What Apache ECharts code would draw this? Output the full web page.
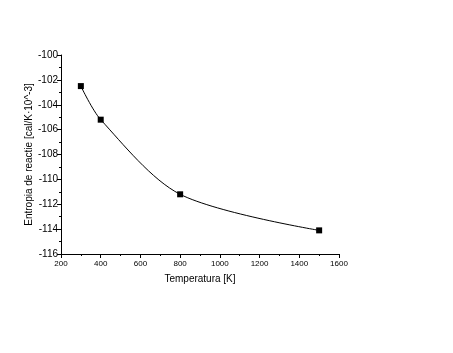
<!DOCTYPE html>
<html>
<head>
<meta charset="utf-8">
<script src="https://cdn.jsdelivr.net/npm/echarts@6/dist/echarts.min.js"></script>
<style>html,body{margin:0;padding:0;background:#fff}#c{width:453px;height:353px}</style>
</head>
<body>
<div id="c"></div>
<script>
const temperatures = [300, 400, 800, 1500];
const entropy = [-102.5, -105.2, -111.2, -114.1];
const xTicks = [200, 400, 600, 800, 1000, 1200, 1400, 1600];
const yTicks = [-116, -114, -112, -110, -108, -106, -104, -102, -100];

const chart = echarts.init(document.getElementById('c'), null, {renderer: 'canvas'});
const font = 'Liberation Sans, Arial, sans-serif';
chart.setOption({
  animation: false,
  backgroundColor: '#fff',
  grid: {left: 61, right: 114, top: 55, bottom: 99},
  xAxis: {
    type: 'value', min: xTicks[0], max: xTicks[xTicks.length - 1], interval: 200,
    name: 'Temperatura [K]', nameLocation: 'middle', nameGap: 20,
    nameTextStyle: {fontFamily: font, fontSize: 10, color: '#000'},
    axisLine: {show: true, lineStyle: {color: '#000', width: 1}},
    axisTick: {show: true, inside: false, length: 4, lineStyle: {color: '#000'}},
    minorTick: {show: true, splitNumber: 2, length: 2, lineStyle: {color: '#000'}},
    splitLine: {show: false},
    axisLabel: {fontFamily: font, fontSize: 8, color: '#000', margin: 6, formatter: v => String(v)}
  },
  yAxis: {
    type: 'value', min: yTicks[0], max: yTicks[yTicks.length - 1], interval: 2,
    name: 'Entropia de reactie [cal/K·10^-3]', nameLocation: 'middle', nameGap: 27, nameRotate: 90,
    nameMoveOverlap: false,
    nameTextStyle: {fontFamily: font, fontSize: 10, color: '#000'},
    axisLine: {show: true, lineStyle: {color: '#000', width: 1}},
    axisTick: {show: true, inside: false, length: 4, lineStyle: {color: '#000'}},
    minorTick: {show: true, splitNumber: 2, length: 2, lineStyle: {color: '#000'}},
    splitLine: {show: false},
    axisLabel: {fontFamily: font, fontSize: 10, color: '#000', margin: 3, formatter: v => String(v)}
  },
  series: [{
    type: 'line',
    data: temperatures.map((t, i) => [t, entropy[i]]),
    smooth: 0.3,
    symbol: 'rect', symbolSize: 6,
    itemStyle: {color: '#000'},
    lineStyle: {color: '#000', width: 1}
  }]
});
</script>
</body>
</html>
